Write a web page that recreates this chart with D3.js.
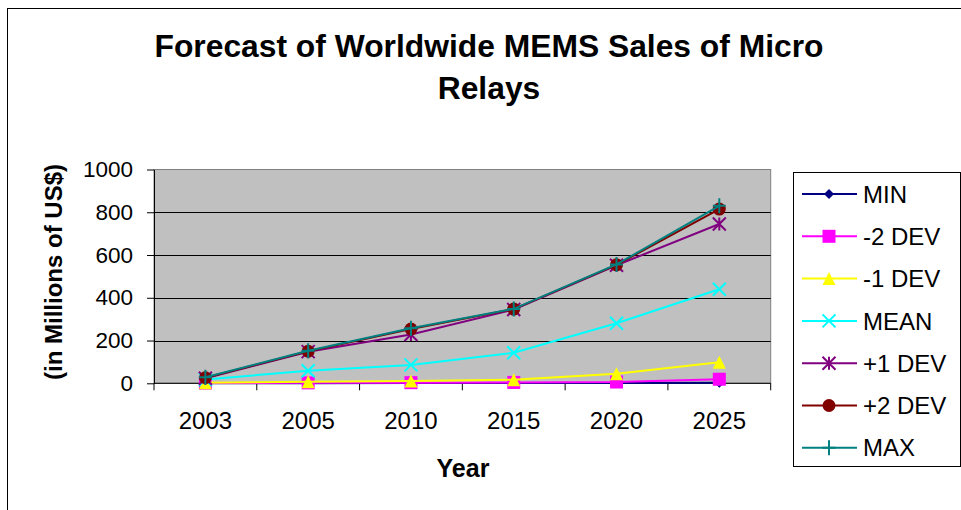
<!DOCTYPE html>
<html><head><meta charset="utf-8">
<script src="https://cdn.jsdelivr.net/npm/d3@7"></script>
<style>body{margin:0;background:#fff}svg{display:block}text{font-family:"Liberation Sans",Arial,sans-serif}</style>
</head><body><svg id="c" width="961" height="510"></svg>
<script>
const years = ["2003","2005","2010","2015","2020","2025"];
const seriesNames = ["MIN","-2 DEV","-1 DEV","MEAN","+1 DEV","+2 DEV","MAX"];
const MIN   = [0, 0, 1, 1, 1, 2];
const DEV_M2 = [1, 2, 3, 4, 6, 19];
const DEV_M1 = [2, 7, 11, 17, 45, 98];
const MEAN  = [18, 59, 86, 143, 281, 440];
const DEV_P1 = [24, 148, 228, 345, 552, 745];
const DEV_P2 = [26, 150, 254, 347, 554, 815];
const MAX   = [28, 152, 257, 348, 556, 830];
const yTicks = [0, 200, 400, 600, 800, 1000];
const titleLines = ["Forecast of Worldwide MEMS Sales of Micro", "Relays"];

const values = [MIN, DEV_M2, DEV_M1, MEAN, DEV_P1, DEV_P2, MAX];
const colors = ["#000080","#FF00FF","#FFFF00","#00FFFF","#800080","#800000","#008080"];
const shapes = ["diamond","square","triangle","x","asterisk","circle","plus"];

const svg = d3.select("#c");
const L = 154, R = 770.7, T = 169.5, B = 383.3;
const x = d3.scaleBand().domain(years).range([L, R]);
const y = d3.scaleLinear().domain([0, 1000]).range([B, T]);

// outer frame
svg.append("rect").attr("x",7.5).attr("y",8.5).attr("width",1000).attr("height",1000)
  .attr("fill","none").attr("stroke","#000");

// title
svg.selectAll("text.title").data(titleLines).enter().append("text")
  .attr("x",489).attr("y",(d,i)=>57+i*42).attr("text-anchor","middle")
  .attr("font-size",31.8).attr("font-weight","bold").text(d=>d);

// plot area
svg.append("rect").attr("x",L).attr("y",T).attr("width",R-L).attr("height",B-T)
  .attr("fill","#C0C0C0").attr("stroke","#808080");

// gridlines
svg.append("g").selectAll("line").data(yTicks.filter(v=>v>0 && v<1000)).enter().append("line")
  .attr("x1",L).attr("x2",R).attr("y1",d=>Math.round(y(d))+0.5).attr("y2",d=>Math.round(y(d))+0.5)
  .attr("stroke","#000").attr("stroke-width",1);

// y axis
const ya = svg.append("g").attr("transform",`translate(${L},0)`)
  .call(d3.axisLeft(y).tickValues(yTicks).tickSize(7).tickSizeOuter(0).tickPadding(14).tickFormat(d3.format("d")));
ya.selectAll("text").attr("font-size",22.5).attr("fill","#000").style("font-family","'Liberation Sans',Arial,sans-serif");
ya.selectAll("line, path").attr("stroke","#000");

// x axis
const boundaries = d3.range(years.length+1).map(i => L + i*x.step());
const xa = svg.append("g");
xa.append("line").attr("x1",L).attr("x2",R).attr("y1",B).attr("y2",B).attr("stroke","#000");
xa.selectAll("line.t").data(boundaries).enter().append("line")
  .attr("x1",d=>d).attr("x2",d=>d).attr("y1",B).attr("y2",B+7).attr("stroke","#000");
xa.selectAll("text").data(years).enter().append("text")
  .attr("x",d=>x(d)+x.bandwidth()/2).attr("y",429).attr("text-anchor","middle")
  .attr("font-size",24).text(d=>d);

// axis titles
svg.append("text").attr("x",463).attr("y",477).attr("text-anchor","middle")
  .attr("font-size",25).attr("font-weight","bold").text("Year");
svg.append("text").attr("transform","translate(62,272) rotate(-90)").attr("text-anchor","middle")
  .attr("font-size",24).attr("font-weight","bold").text("(in Millions of US$)");

function marker(g, shape, color, cx, cy){
  const s = 6.5;
  if(shape==="diamond"){
    g.append("path").attr("d",`M${cx},${cy-5}L${cx+5},${cy}L${cx},${cy+5}L${cx-5},${cy}Z`).attr("fill",color);
  } else if(shape==="square"){
    g.append("rect").attr("x",cx-s).attr("y",cy-s).attr("width",2*s).attr("height",2*s).attr("fill",color);
  } else if(shape==="triangle"){
    g.append("path").attr("d",`M${cx},${cy-s}L${cx+s},${cy+s}L${cx-s},${cy+s}Z`).attr("fill",color);
  } else if(shape==="circle"){
    g.append("circle").attr("cx",cx).attr("cy",cy).attr("r",s).attr("fill",color);
  } else if(shape==="x"){
    g.append("path").attr("d",`M${cx-s},${cy-s}L${cx+s},${cy+s}M${cx+s},${cy-s}L${cx-s},${cy+s}`)
      .attr("stroke",color).attr("stroke-width",2);
  } else if(shape==="asterisk"){
    g.append("path").attr("d",`M${cx-s},${cy-s}L${cx+s},${cy+s}M${cx+s},${cy-s}L${cx-s},${cy+s}M${cx},${cy-s}L${cx},${cy+s}`)
      .attr("stroke",color).attr("stroke-width",2);
  } else if(shape==="plus"){
    g.append("path").attr("d",`M${cx-s},${cy}L${cx+s},${cy}M${cx},${cy-s-1}L${cx},${cy+s+1}`)
      .attr("stroke",color).attr("stroke-width",2);
  }
}

// series
const line = d3.line().x((d,i)=>x(years[i])+x.bandwidth()/2).y(d=>y(d));
values.forEach((vals, si) => {
  const g = svg.append("g");
  g.append("path").attr("d",line(vals)).attr("fill","none").attr("stroke",colors[si]).attr("stroke-width",2);
  vals.forEach((v,i)=>marker(g, shapes[si], colors[si], x(years[i])+x.bandwidth()/2, y(v)));
});

// legend
const lg = svg.append("g");
lg.append("rect").attr("x",793.5).attr("y",172.5).attr("width",167).attr("height",294)
  .attr("fill","#fff").attr("stroke","#000");
seriesNames.forEach((name, i) => {
  const cy = 194 + i*42.3;
  lg.append("line").attr("x1",802).attr("x2",857).attr("y1",cy).attr("y2",cy).attr("stroke",colors[i]).attr("stroke-width",2);
  marker(lg, shapes[i], colors[i], 829, cy);
  lg.append("text").attr("x",863).attr("y",cy).attr("dy","0.36em").attr("font-size",24).text(name);
});
</script></body></html>
